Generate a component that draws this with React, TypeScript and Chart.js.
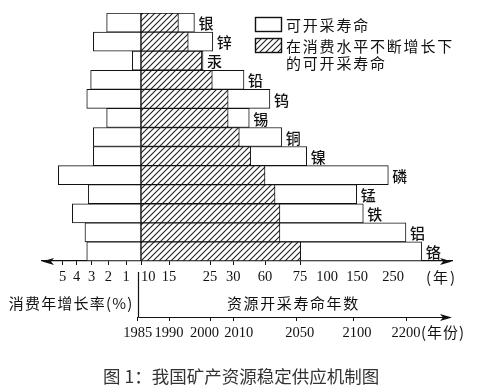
import React, { useEffect, useRef } from 'react';
import { Chart, registerables, LinearScale } from 'chart.js';

// ---------- data ----------
const METALS = ['银', '锌', '汞', '铅', '钨', '锡', '铜', '镍', '磷', '锰', '铁', '铝', '铬'];
// consumption annual growth rate (%)
const GROWTH_RATE = [2.1, 2.9, 0.58, 3.07, 3.33, 2.1, 2.9, 2.9, 5.31, 3.23, 4.31, 3.45, 3.33];
// exploitable life (years) at constant consumption
const LIFE_STATIC = [21.2, 25.6, 23.3, 40.1, 62.1, 45.1, 67.2, 81.2, 237, 149.5, 167.5, 286, 330];
// exploitable life (years) under growing consumption
const LIFE_GROWING = [17.3, 19.7, 23.0, 25.5, 28.9, 28.9, 35.7, 46.5, 60, 64.3, 66.4, 66.4, 75.6];

const RATE_TICKS = [5, 4, 3, 2, 1];
const LIFE_TICKS = [10, 15, 25, 30, 60, 75, 100, 150, 250];
const LIFE_TICKS_NO_MARK = [100, 150, 250];
const YEAR_TICKS = [1985, 1990, 2000, 2010, 2050, 2100, 2200];
const LIFE_ORIGIN = 10;

// ---------- scale configuration (schematic, non-uniform axes) ----------
const AXIS_SPAN = 410;
const TOP_AXIS_VALUES = [...RATE_TICKS.map((r) => -r), 0, ...LIFE_TICKS];
const TOP_AXIS_UNITS = [20.7, 34.7, 49.7, 66.3, 84, 99, 99, 127, 168, 191.3, 223, 258, 285, 315, 351];
const YEAR_AXIS_UNITS = [95.7, 127, 168, 191.3, 254, 311.3, 364];

const AXIS_MAPS: Record<string, { values: number[]; units: number[] }> = {
  x: { values: TOP_AXIS_VALUES, units: TOP_AXIS_UNITS },
  x2: { values: YEAR_TICKS, units: YEAR_AXIS_UNITS },
};

function interp(xs: number[], ys: number[], x: number): number {
  const n = xs.length;
  let i = 0;
  if (x <= xs[0]) i = 0;
  else if (x >= xs[n - 1]) i = n - 2;
  else {
    while (i < n - 2 && x > xs[i + 1]) i++;
  }
  const x0 = xs[i];
  const x1 = xs[i + 1];
  if (x1 === x0) return ys[i + 1];
  return ys[i] + ((ys[i + 1] - ys[i]) * (x - x0)) / (x1 - x0);
}

class PiecewiseScale extends LinearScale {
  static id = 'piecewise';
  static defaults = LinearScale.defaults;
  getPixelForValue(value: number) {
    const m = AXIS_MAPS[(this as any).id];
    if (value === null || value === undefined || isNaN(value)) return NaN;
    return this.getPixelForDecimal(interp(m.values, m.units, value) / AXIS_SPAN);
  }
  getValueForPixel(pixel: number) {
    const m = AXIS_MAPS[(this as any).id];
    return interp(m.units, m.values, this.getDecimalForPixel(pixel) * AXIS_SPAN);
  }
}

Chart.register(...registerables, PiecewiseScale as any);

const INK = '#111';
const SERIF = "'Liberation Serif', 'DejaVu Serif', serif";
const CJK = "'Noto Sans CJK SC', 'Noto Sans', sans-serif";

function makeHatch(): CanvasPattern | string {
  const c = document.createElement('canvas');
  c.width = 6;
  c.height = 6;
  const g = c.getContext('2d');
  if (!g) return '#ccc';
  g.fillStyle = '#fff';
  g.fillRect(0, 0, 6, 6);
  g.strokeStyle = '#222';
  g.lineWidth = 1.1;
  g.beginPath();
  g.moveTo(-1, 7);
  g.lineTo(7, -1);
  g.moveTo(-1, 1);
  g.lineTo(1, -1);
  g.moveTo(5, 7);
  g.lineTo(7, 5);
  g.stroke();
  return g.createPattern(c, 'repeat') || '#ccc';
}

function arrow(ctx: CanvasRenderingContext2D, tipX: number, y: number, dir: number) {
  ctx.beginPath();
  ctx.moveTo(tipX, y);
  ctx.lineTo(tipX - dir * 12, y - 3.5);
  ctx.lineTo(tipX - dir * 9, y);
  ctx.lineTo(tipX - dir * 12, y + 3.5);
  ctx.closePath();
  ctx.fill();
}

function text(ctx: CanvasRenderingContext2D, s: string, x: number, y: number, font: string, spacing: number, align: CanvasTextAlign = 'left') {
  ctx.font = font;
  (ctx as any).letterSpacing = spacing + 'px';
  ctx.textAlign = align;
  ctx.textBaseline = 'middle';
  ctx.fillText(s, x, y);
  (ctx as any).letterSpacing = '0px';
}

// nudges for tightly packed year labels (trailing / leading spaces)
function yearLabel(v: number): string {
  if (v === 2000) return v + '   ';
  if (v === 2010) return '   ' + v;
  if (v === 2050 || v === 2100) return '  ' + v;
  return String(v);
}

export default function App() {
  const ref = useRef<HTMLCanvasElement | null>(null);

  useEffect(() => {
    document.body.style.margin = '0';
    const canvas = ref.current;
    if (!canvas) return;
    const hatch = makeHatch();

    const decor = {
      id: 'decor',
      afterDraw(chart: any) {
        const ctx: CanvasRenderingContext2D = chart.ctx;
        const area = chart.chartArea;
        const x = chart.scales.x;
        const x2 = chart.scales.x2;
        const y = chart.scales.y;
        ctx.save();
        ctx.fillStyle = INK;
        ctx.strokeStyle = INK;
        // arrows on top axis
        const ty = x.top + 0.5;
        arrow(ctx, area.left, ty, -1);
        arrow(ctx, area.right, ty, 1);
        // bottom (year) axis line
        const by = Math.round(x2.top) + 0.5;
        const x1985 = Math.round(x2.getPixelForValue(YEAR_TICKS[0])) + 0.5;
        ctx.lineWidth = 1.2;
        ctx.beginPath();
        ctx.moveTo(x1985, by);
        ctx.lineTo(area.right - 4, by);
        ctx.moveTo(x1985, x.top + 11);
        ctx.lineTo(x1985, by);
        ctx.stroke();
        arrow(ctx, area.right, by, 1);

        // axis titles and units
        text(ctx, '消费年增长率(%)', x1985 - 5, 303, `15px ${CJK}`, 1.2, 'right');
        text(ctx, '资源开采寿命年数', 227, 303, `15px ${CJK}`, 1.6);
        text(ctx, '(年)', 426, 277, `15px ${CJK}`, 2);
        text(ctx, '(年份)', 421, 332, `15px ${CJK}`, 1);

        // metal labels
        METALS.forEach((m, i) => {
          const end = Math.max(LIFE_STATIC[i], LIFE_GROWING[i]);
          const px = x.getPixelForValue(end) + 4;
          const py = y.getPixelForValue(i) + 1;
          text(ctx, m, px, py, `500 15px ${CJK}`, 0);
        });

        // legend
        ctx.lineWidth = 1.4;
        ctx.fillStyle = '#fff';
        ctx.fillRect(255.5, 17.5, 26, 14);
        ctx.strokeRect(255.5, 17.5, 26, 14);
        ctx.fillStyle = hatch as any;
        ctx.fillRect(255.5, 38.5, 26, 14);
        ctx.strokeRect(255.5, 38.5, 26, 14);
        ctx.fillStyle = INK;
        text(ctx, '可开采寿命', 286, 25, `15px ${CJK}`, 1.8);
        text(ctx, '在消费水平不断增长下', 286, 46, `15px ${CJK}`, 1.8);
        text(ctx, '的可开采寿命', 286, 63, `15px ${CJK}`, 1.8);
        ctx.restore();
      },
    };

    const barCommon = {
      borderColor: INK,
      borderWidth: 1,
      borderSkipped: false as const,
    };

    const tickFont = { family: SERIF, size: 14.5 };

    const chart = new Chart(canvas, {
      type: 'bar',
      data: {
        labels: METALS,
        datasets: [
          {
            label: '在消费水平不断增长下的可开采寿命',
            data: LIFE_GROWING.map((v) => [LIFE_ORIGIN, v]) as any,
            backgroundColor: hatch as any,
            order: 0,
            ...barCommon,
          },
          {
            label: '可开采寿命',
            data: LIFE_STATIC.map((v) => [LIFE_ORIGIN, v]) as any,
            backgroundColor: '#fff',
            order: 1,
            ...barCommon,
          },
          {
            label: '消费年增长率(%)',
            data: GROWTH_RATE.map((r) => [-r, 0]) as any,
            backgroundColor: '#fff',
            order: 2,
            ...barCommon,
          },
        ],
      },
      options: {
        indexAxis: 'y',
        animation: false,
        responsive: false,
        events: [],
        layout: { padding: { top: 13, left: 42, right: 38, bottom: 44 } },
        datasets: { bar: { grouped: false, categoryPercentage: 1, barPercentage: 1 } } as any,
        plugins: { legend: { display: false }, tooltip: { enabled: false } },
        scales: {
          y: { type: 'category', display: false, offset: true },
          x: {
            type: 'piecewise' as any,
            position: 'bottom',
            weight: 0,
            min: -6,
            max: 400,
            afterBuildTicks: (s: any) => {
              s.ticks = [...RATE_TICKS.map((r) => -r), ...LIFE_TICKS].map((v) => ({ value: v }));
            },
            afterFit: (s: any) => {
              s.height = 56;
            },
            border: { display: true, color: INK, width: 1.2 },
            grid: {
              drawOnChartArea: false,
              drawTicks: true,
              tickLength: 4,
              lineWidth: 1,
              color: (c: any) => (c.tick && LIFE_TICKS_NO_MARK.includes(c.tick.value) ? 'rgba(0,0,0,0)' : INK),
            },
            ticks: {
              autoSkip: false,
              maxRotation: 0,
              minRotation: 0,
              padding: 3,
              color: INK,
              font: tickFont,
              callback: (v: any) => (v < 0 ? String(-v) : v === LIFE_ORIGIN ? '    ' + v : String(v)),
            },
          } as any,
          x2: {
            type: 'piecewise' as any,
            axis: 'x',
            position: 'bottom',
            weight: 1,
            min: 1980,
            max: 2300,
            afterBuildTicks: (s: any) => {
              s.ticks = YEAR_TICKS.map((v) => ({ value: v }));
            },
            afterFit: (s: any) => {
              s.height = 30;
            },
            border: { display: false },
            grid: { drawOnChartArea: false, drawTicks: true, tickLength: 4, lineWidth: 1, color: INK },
            ticks: {
              autoSkip: false,
              maxRotation: 0,
              minRotation: 0,
              padding: 3,
              color: INK,
              font: tickFont,
              callback: (v: any) => yearLabel(v),
            },
          } as any,
        },
      },
      plugins: [decor],
    });

    return () => chart.destroy();
  }, []);

  return (
    <div style={{ position: 'relative', width: 490, height: 391, background: '#fff' }}>
      <canvas ref={ref} width={490} height={391} style={{ position: 'absolute', left: 0, top: 0 }} />
      <div
        style={{
          position: 'absolute',
          left: 103,
          top: 366,
          fontFamily: CJK,
          fontSize: 17.5,
          lineHeight: '20px',
          color: '#333',
          whiteSpace: 'nowrap',
        }}
      >
        图 1：我国矿产资源稳定供应机制图
      </div>
    </div>
  );
}
